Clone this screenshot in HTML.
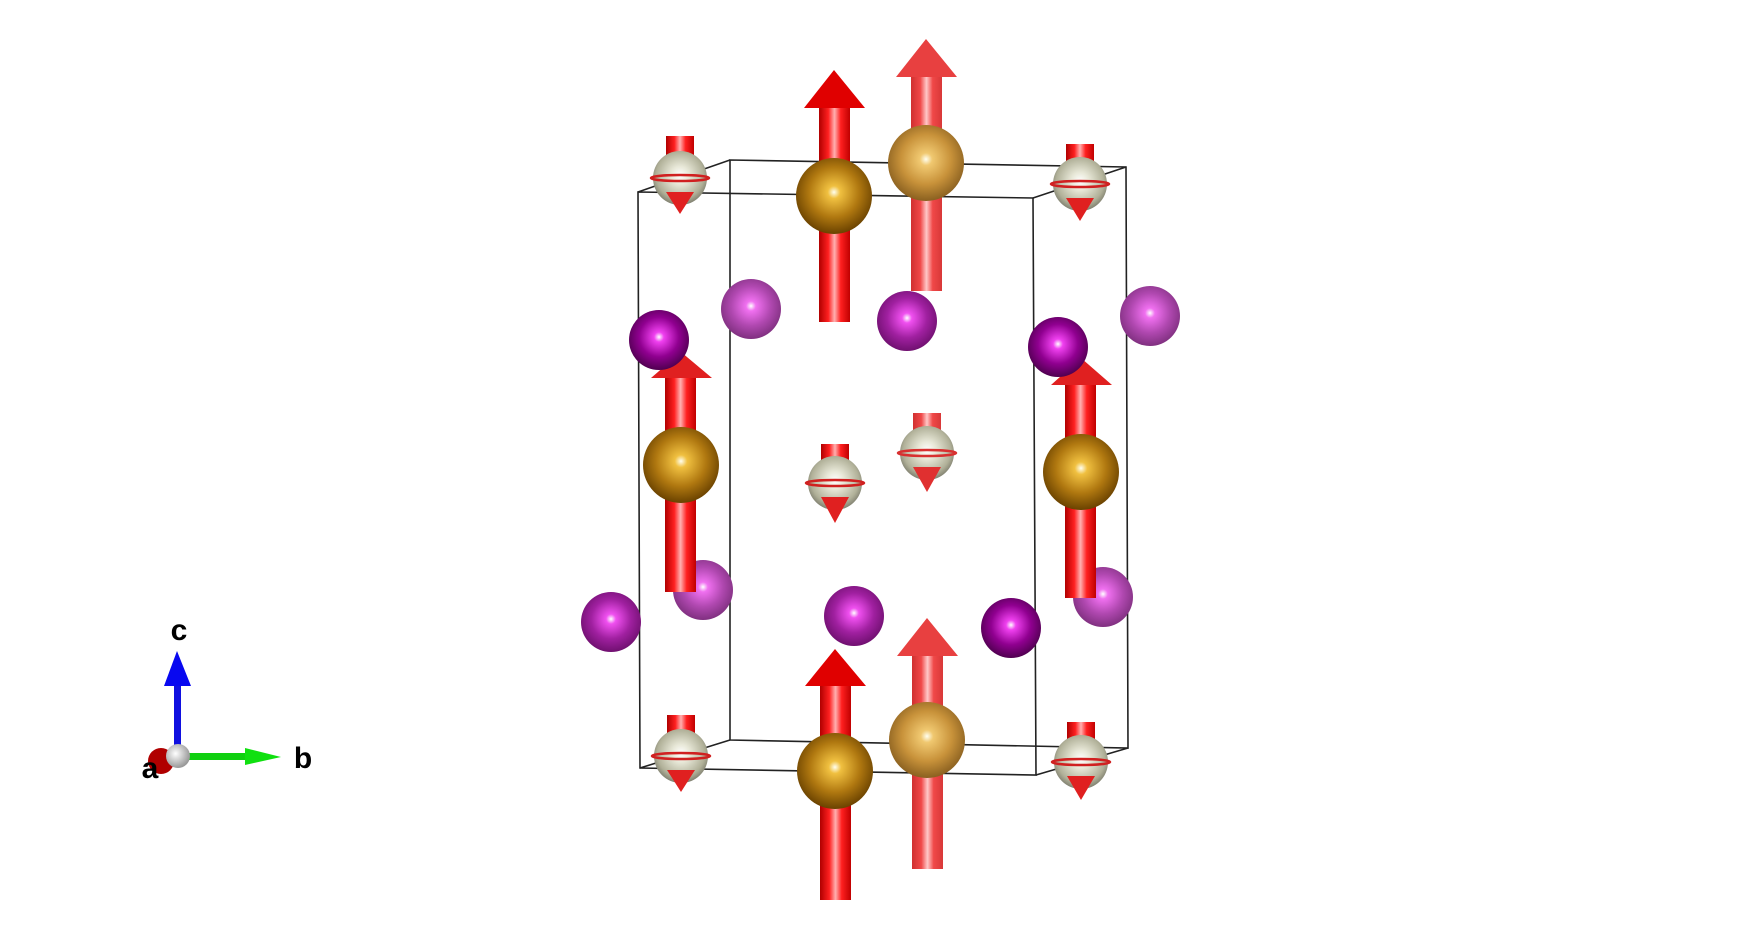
<!DOCTYPE html>
<html><head><meta charset="utf-8"><style>
html,body{margin:0;padding:0;background:#fff;width:1762px;height:930px;overflow:hidden}
</style></head><body>
<svg width="1762" height="930" viewBox="0 0 1762 930" xmlns="http://www.w3.org/2000/svg">
<defs>
<linearGradient id="cyl" x1="0" x2="1" y1="0" y2="0">
<stop offset="0" stop-color="#b00000"/><stop offset="0.3" stop-color="#ff2020"/><stop offset="0.5" stop-color="#ffb0b0"/><stop offset="0.7" stop-color="#ff2020"/><stop offset="1" stop-color="#c00000"/></linearGradient>
<linearGradient id="cyl2" x1="0" x2="1" y1="0" y2="0">
<stop offset="0" stop-color="#d03030"/><stop offset="0.3" stop-color="#f04848"/><stop offset="0.5" stop-color="#ffc8c8"/><stop offset="0.7" stop-color="#f04848"/><stop offset="1" stop-color="#d83838"/></linearGradient>
<radialGradient id="gd" cx="0.5" cy="0.45" r="0.55"><stop offset="0" stop-color="#fffff0"/><stop offset="0.15" stop-color="#f0c040"/><stop offset="0.6" stop-color="#b07810"/><stop offset="1" stop-color="#6a4200"/></radialGradient>
<radialGradient id="gl" cx="0.5" cy="0.45" r="0.55"><stop offset="0" stop-color="#fffff0"/><stop offset="0.15" stop-color="#f0c870"/><stop offset="0.6" stop-color="#c8923a"/><stop offset="1" stop-color="#8a6020"/></radialGradient>
<radialGradient id="md" cx="0.5" cy="0.45" r="0.55"><stop offset="0" stop-color="#fff"/><stop offset="0.15" stop-color="#f040f0"/><stop offset="0.6" stop-color="#900090"/><stop offset="1" stop-color="#500050"/></radialGradient>
<radialGradient id="mm" cx="0.5" cy="0.45" r="0.55"><stop offset="0" stop-color="#fff"/><stop offset="0.15" stop-color="#f050f0"/><stop offset="0.6" stop-color="#a020a0"/><stop offset="1" stop-color="#701070"/></radialGradient>
<radialGradient id="ml" cx="0.5" cy="0.45" r="0.55"><stop offset="0" stop-color="#fff"/><stop offset="0.15" stop-color="#f070f0"/><stop offset="0.6" stop-color="#b048b0"/><stop offset="1" stop-color="#803080"/></radialGradient>
<radialGradient id="gr" cx="0.5" cy="0.45" r="0.55"><stop offset="0" stop-color="#fff"/><stop offset="0.3" stop-color="#e8e8d8"/><stop offset="0.8" stop-color="#b0b098"/><stop offset="1" stop-color="#808070"/></radialGradient>
<radialGradient id="ax" cx="0.4" cy="0.4" r="0.6"><stop offset="0" stop-color="#fff"/><stop offset="1" stop-color="#999"/></radialGradient>
</defs>

<g transform="translate(-4,0)">
<g stroke="#222" stroke-width="1.6" fill="none">
<polygon points="642,192 1037,198 1040,775 644,768"/>
<polygon points="734,160 1130,167 1132,748 734,740"/>
<line x1="642" y1="192" x2="734" y2="160"/><line x1="1037" y1="198" x2="1130" y2="167"/>
<line x1="644" y1="768" x2="734" y2="740"/><line x1="1040" y1="775" x2="1132" y2="748"/>
</g>

<circle cx="755" cy="309" r="30" fill="url(#ml)"/>
<circle cx="1154" cy="316" r="30" fill="url(#ml)"/>
<circle cx="911" cy="321" r="30" fill="url(#mm)"/>
<circle cx="707" cy="590" r="30" fill="url(#ml)"/>
<circle cx="1107" cy="597" r="30" fill="url(#ml)"/>
<circle cx="858" cy="616" r="30" fill="url(#mm)"/>

<g transform="translate(684,178)"><rect x="-14" y="-42" width="28" height="22" fill="url(#cyl)"/><circle r="27" fill="url(#gr)"/><polygon points="-14,14 14,14 0,36" fill="#e02020"/><ellipse rx="29" ry="3" fill="none" stroke="#d02020" stroke-width="2.5"/></g>
<g transform="translate(1084,184)"><rect x="-14" y="-40" width="28" height="22" fill="url(#cyl)"/><circle r="27" fill="url(#gr)"/><polygon points="-14,14 14,14 0,37" fill="#e02020"/><ellipse rx="29" ry="3" fill="none" stroke="#d02020" stroke-width="2.5"/></g>
<g transform="translate(839,483)"><rect x="-14" y="-39" width="28" height="22" fill="url(#cyl)"/><circle r="27" fill="url(#gr)"/><polygon points="-14,14 14,14 0,40" fill="#e02020"/><ellipse rx="29" ry="3" fill="none" stroke="#d02020" stroke-width="2.5"/></g>
<g transform="translate(931,453)"><rect x="-14" y="-40" width="28" height="22" fill="url(#cyl2)"/><circle r="27" fill="url(#gr)"/><polygon points="-14,14 14,14 0,39" fill="#e03030"/><ellipse rx="29" ry="3" fill="none" stroke="#d83030" stroke-width="2.5"/></g>
<g transform="translate(685,756)"><rect x="-14" y="-41" width="28" height="22" fill="url(#cyl)"/><circle r="27" fill="url(#gr)"/><polygon points="-14,14 14,14 0,36" fill="#e02020"/><ellipse rx="29" ry="3" fill="none" stroke="#d02020" stroke-width="2.5"/></g>
<g transform="translate(1085,762)"><rect x="-14" y="-40" width="28" height="22" fill="url(#cyl)"/><circle r="27" fill="url(#gr)"/><polygon points="-14,14 14,14 0,38" fill="#e02020"/><ellipse rx="29" ry="3" fill="none" stroke="#d02020" stroke-width="2.5"/></g>

<rect x="915" y="77" width="31" height="214" fill="url(#cyl2)"/><polygon points="900,77 961,77 930,39" fill="#e84040"/>
<circle cx="930" cy="163" r="38" fill="url(#gl)"/>
<rect x="823" y="108" width="31" height="214" fill="url(#cyl)"/><polygon points="808,108 869,108 838,70" fill="#e00000"/>
<circle cx="838" cy="196" r="38" fill="url(#gd)"/>
<rect x="669" y="378" width="31" height="214" fill="url(#cyl)"/><polygon points="655,378 716,378 685,352" fill="#e02020"/>
<circle cx="685" cy="465" r="38" fill="url(#gd)"/>
<rect x="1069" y="385" width="31" height="213" fill="url(#cyl)"/><polygon points="1055,385 1116,385 1085,358" fill="#e02020"/>
<circle cx="1085" cy="472" r="38" fill="url(#gd)"/>
<rect x="916" y="656" width="31" height="213" fill="url(#cyl2)"/><polygon points="901,656 962,656 931,618" fill="#e84040"/>
<circle cx="931" cy="740" r="38" fill="url(#gl)"/>
<rect x="824" y="686" width="31" height="214" fill="url(#cyl)"/><polygon points="809,686 870,686 839,649" fill="#e00000"/>
<circle cx="839" cy="771" r="38" fill="url(#gd)"/>

<circle cx="663" cy="340" r="30" fill="url(#md)"/>
<circle cx="1062" cy="347" r="30" fill="url(#md)"/>
<circle cx="615" cy="622" r="30" fill="url(#mm)"/>
<circle cx="1015" cy="628" r="30" fill="url(#md)"/>
</g>

<rect x="174" y="684" width="7" height="66" fill="#1010e0"/>
<polygon points="164,686 191,686 177,651" fill="#0808f0"/>
<rect x="180" y="753" width="66" height="7" fill="#10d010"/>
<polygon points="245,748 245,765 281,757" fill="#10e010"/>
<circle cx="161" cy="761" r="13" fill="#b00000"/>
<circle cx="178" cy="756" r="12" fill="url(#ax)"/>
<g font-family="Liberation Sans, sans-serif" font-weight="bold" font-size="30" fill="#000" text-anchor="middle">
<text x="179" y="640">c</text>
<text x="303" y="768">b</text>
<text x="150" y="778">a</text>
</g>
</svg>
</body></html>
